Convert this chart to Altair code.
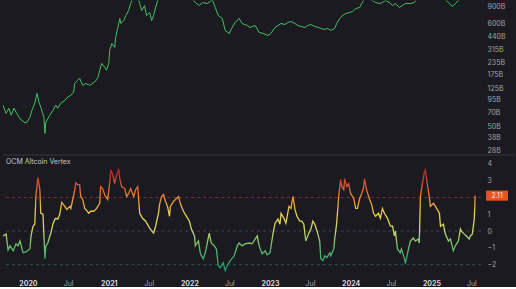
import altair as alt
import pandas as pd

# ---------------- data ----------------
# Altcoin market cap, billions USD (points above ~1040B are clipped in the view)
cap_year = [2019.691, 2019.728, 2019.765, 2019.790, 2019.827, 2019.852, 2019.889, 2019.914, 2019.963, 2019.988,
            2020.025, 2020.049, 2020.086, 2020.111, 2020.136, 2020.160, 2020.198, 2020.210, 2020.222, 2020.272,
            2020.309, 2020.346, 2020.370, 2020.407, 2020.457, 2020.494, 2020.531, 2020.568, 2020.580, 2020.617,
            2020.642, 2020.679, 2020.716, 2020.765, 2020.827, 2020.864, 2020.889, 2020.914, 2020.951, 2020.975,
            2021.000, 2021.012, 2021.037, 2021.074, 2021.086, 2021.111, 2021.136, 2021.148, 2021.185, 2021.210,
            2021.247, 2021.272, 2021.296, 2021.333, 2021.358, 2021.383, 2021.407, 2021.444, 2021.469, 2021.506,
            2021.531, 2021.556, 2021.580, 2021.617, 2021.667, 2021.741, 2021.815, 2021.889, 2021.963, 2022.025,
            2022.074, 2022.123, 2022.160, 2022.222, 2022.284, 2022.321, 2022.358, 2022.407, 2022.444, 2022.494,
            2022.531, 2022.568, 2022.617, 2022.654, 2022.716, 2022.753, 2022.815, 2022.864, 2022.914, 2022.975,
            2023.012, 2023.062, 2023.099, 2023.136, 2023.185, 2023.222, 2023.259, 2023.309, 2023.346, 2023.383,
            2023.432, 2023.469, 2023.506, 2023.556, 2023.593, 2023.630, 2023.679, 2023.716, 2023.753, 2023.802,
            2023.827, 2023.864, 2023.901, 2023.938, 2023.988, 2024.025, 2024.062, 2024.111, 2024.136, 2024.173,
            2024.222, 2024.272, 2024.309, 2024.358, 2024.395, 2024.432, 2024.481, 2024.519, 2024.556, 2024.605,
            2024.642, 2024.679, 2024.741, 2024.790, 2024.827, 2024.938, 2025.062, 2025.160, 2025.222, 2025.259,
            2025.296, 2025.346, 2025.432, 2025.543]
cap_value = [83, 68, 77, 65, 77, 70, 62, 58, 54, 55,
             62, 73, 87, 110, 89, 79, 62, 42, 55, 65,
             73, 83, 77, 87, 93, 101, 105, 114, 140, 151,
             159, 134, 140, 134, 145, 159, 193, 228, 208, 193,
             228, 312, 368, 335, 425, 543, 674, 597, 642, 725,
             817, 968, 1100, 1250, 1150, 968, 817, 922, 725, 779,
             642, 725, 879, 1100, 1250, 1400, 1500, 1350, 1200, 1100,
             991, 922, 991, 968, 1060, 879, 725, 674, 505, 469,
             543, 612, 674, 597, 569, 543, 569, 481, 469, 447,
             469, 543, 569, 597, 583, 612, 627, 597, 569, 556,
             543, 569, 583, 556, 543, 530, 518, 530, 505, 530,
             597, 674, 725, 760, 779, 797, 858, 879, 968, 1080,
             1100, 1040, 991, 968, 991, 1040, 991, 922, 968, 879,
             922, 968, 968, 991, 1100, 1300, 1250, 1100, 968, 900,
             968, 1060, 1150, 1250]

# OCM Altcoin Vertex oscillator
vertex_year = [2019.691, 2019.728, 2019.753, 2019.778, 2019.815, 2019.852, 2019.877, 2019.901, 2019.938, 2019.975,
               2020.025, 2020.037, 2020.062, 2020.086, 2020.099, 2020.123, 2020.148, 2020.160, 2020.185, 2020.210,
               2020.222, 2020.247, 2020.272, 2020.284, 2020.309, 2020.333, 2020.346, 2020.370, 2020.395, 2020.420,
               2020.457, 2020.481, 2020.519, 2020.531, 2020.556, 2020.580, 2020.593, 2020.617, 2020.642, 2020.654,
               2020.679, 2020.704, 2020.716, 2020.753, 2020.778, 2020.815, 2020.840, 2020.852, 2020.889, 2020.901,
               2020.926, 2020.951, 2020.963, 2020.988, 2021.012, 2021.025, 2021.049, 2021.074, 2021.086, 2021.123,
               2021.136, 2021.160, 2021.198, 2021.222, 2021.247, 2021.272, 2021.309, 2021.333, 2021.358, 2021.383,
               2021.420, 2021.457, 2021.506, 2021.556, 2021.580, 2021.617, 2021.630, 2021.654, 2021.679, 2021.704,
               2021.728, 2021.753, 2021.765, 2021.802, 2021.827, 2021.864, 2021.889, 2021.926, 2021.963, 2022.000,
               2022.025, 2022.062, 2022.074, 2022.111, 2022.136, 2022.173, 2022.198, 2022.222, 2022.247, 2022.272,
               2022.309, 2022.333, 2022.358, 2022.383, 2022.420, 2022.444, 2022.469, 2022.506, 2022.556, 2022.593,
               2022.617, 2022.654, 2022.691, 2022.741, 2022.778, 2022.815, 2022.840, 2022.864, 2022.901, 2022.938,
               2022.963, 2023.000, 2023.037, 2023.062, 2023.099, 2023.123, 2023.136, 2023.173, 2023.198, 2023.235,
               2023.259, 2023.284, 2023.309, 2023.333, 2023.370, 2023.395, 2023.420, 2023.444, 2023.481, 2023.506,
               2023.531, 2023.556, 2023.593, 2023.617, 2023.630, 2023.654, 2023.679, 2023.704, 2023.741, 2023.753,
               2023.790, 2023.802, 2023.827, 2023.852, 2023.877, 2023.889, 2023.914, 2023.926, 2023.951, 2023.975,
               2024.000, 2024.037, 2024.062, 2024.086, 2024.111, 2024.136, 2024.160, 2024.173, 2024.198, 2024.235,
               2024.259, 2024.284, 2024.309, 2024.346, 2024.370, 2024.395, 2024.420, 2024.457, 2024.494, 2024.519,
               2024.543, 2024.556, 2024.580, 2024.617, 2024.630, 2024.667, 2024.679, 2024.716, 2024.741, 2024.778,
               2024.802, 2024.840, 2024.852, 2024.864, 2024.889, 2024.914, 2024.926, 2024.951, 2024.975, 2024.988,
               2025.025, 2025.049, 2025.099, 2025.111, 2025.148, 2025.173, 2025.210, 2025.235, 2025.272, 2025.296,
               2025.333, 2025.358, 2025.370, 2025.407, 2025.432, 2025.469, 2025.481, 2025.506, 2025.531, 2025.543]
vertex_value = [-0.29, -0.18, -1.12, -0.88, -1.18, -0.76, -0.88, -0.59, -1.29, -1.24,
                -1.06, -0.29, 0.29, 0.41, 2.06, 3.18, 2.47, 1.06, 1.00, -1.65,
                -0.88, -0.71, -0.29, -0.12, 0.41, 0.71, 0.76, 0.71, 1.00, 1.71,
                1.47, 1.29, 1.47, 1.35, 1.88, 2.47, 2.88, 2.76, 2.76, 2.06,
                1.88, 1.35, 1.29, 1.06, 1.18, 1.18, 1.29, 1.35, 1.65, 2.65,
                2.53, 2.18, 2.06, 1.88, 2.82, 3.65, 3.35, 2.82, 3.12, 3.71,
                3.12, 2.65, 2.53, 2.06, 2.24, 2.53, 2.06, 2.47, 2.65, 1.06,
                0.76, 0.59, 0.18, -0.12, 0.29, 1.06, 1.59, 2.06, 2.18, 1.76,
                1.47, 0.88, 1.47, 1.76, 1.88, 2.06, 1.59, 1.18, 0.88, 0.59,
                0.12, -0.29, -0.88, -0.59, -1.35, -1.65, -1.29, -0.71, -0.12, -0.71,
                -0.88, -1.06, -2.06, -2.18, -1.88, -2.35, -2.06, -1.76, -1.47, -0.88,
                -0.71, -0.88, -0.76, -0.71, -0.76, -0.47, -0.29, -0.88, -1.35, -1.18,
                -1.41, -1.29, -0.12, 0.47, 0.71, 0.41, 1.06, 0.76, 0.47, 1.47,
                1.35, 2.06, 1.29, 0.88, 0.59, 0.59, 0.41, -0.59, -0.12, 0.12,
                0.59, 0.41, -0.18, -0.59, -1.65, -1.76, -1.47, -1.59, -1.29, -1.47,
                -1.06, -0.47, 0.47, 2.06, 3.06, 2.65, 2.47, 3.12, 2.65, 2.82,
                2.24, 1.94, 1.35, 1.35, 1.94, 2.24, 2.53, 3.12, 2.47, 1.88,
                1.59, 1.06, 0.88, 1.06, 0.76, 1.35, 1.06, 0.76, 0.29, 0.29,
                -0.29, 0.00, -1.06, -1.29, -1.06, -1.65, -1.94, -1.06, -0.59, -0.41,
                -0.59, -0.47, -0.71, 2.06, 2.82, 3.53, 3.65, 2.82, 2.06, 1.47,
                1.65, 1.47, 1.06, 0.29, 0.41, -0.18, -0.59, -0.47, -1.18, -0.88,
                -0.59, 0.12, 0.00, -0.18, -0.29, -0.47, -0.29, -0.18, 0.71, 2.11]

cap_ticks = [28, 38, 50, 70, 95, 125, 175, 235, 315, 440, 600, 900]
vertex_ticks = [4, 3, 1, 0, -1, -2]
ref_levels = [2, 0, -2]
ref_colors = ["#7a3034", "#3d3f57", "#2d5a47"]
last_value = 2.11
x_start_year, x_end_year = 2019.691, 2025.617
cap_domain = [26.1, 1040]
vertex_domain = [-2.76, 4.53]
tick_years = [2020, 2021, 2022, 2023, 2024, 2025]

# ---------------- helpers ----------------
def to_ts(y):
    yi = int(y)
    return pd.Timestamp(f"{yi}-01-01") + pd.Timedelta(days=round((y - yi) * 365.25))

def to_iso(y):
    return to_ts(y).strftime("%Y-%m-%d")

def to_ms(ts):
    return int(ts.value // 10**6)

cap_df = pd.DataFrame({"date": [to_iso(y) for y in cap_year], "cap": cap_value})
vx_df = pd.DataFrame({"date": [to_iso(y) for y in vertex_year], "v": vertex_value})
ref_df = pd.DataFrame({"level": ref_levels, "color": ref_colors})
last_df = pd.DataFrame({"v": [last_value], "label": [f"{last_value:.2f}"]})

x_domain = [to_ms(to_ts(x_start_year)), to_ms(to_ts(x_end_year))]
x_ticks = []
for yr in tick_years:
    x_ticks.append(to_ms(pd.Timestamp(f"{yr}-01-01")))
    x_ticks.append(to_ms(pd.Timestamp(f"{yr}-07-01")))

W = 480
H_TOP = 153
H_BOT = 123
BG = "#1b1a20"
LABEL = "#a4a4ad"
FONT = "Inter"

xscale = alt.Scale(type="utc", domain=x_domain, nice=False)

# ---------------- top panel ----------------
top = alt.Chart(cap_df).mark_line(color="#45c160", strokeWidth=1, clip=True).encode(
    x=alt.X("date:T", scale=xscale, axis=None),
    y=alt.Y("cap:Q", scale=alt.Scale(type="log", domain=cap_domain, nice=False),
            axis=alt.Axis(orient="right", values=cap_ticks, labelExpr="datum.value + 'B'",
                          grid=False, domain=False, ticks=False, title=None, labelOverlap=False,
                          labelColor=LABEL, labelFontSize=7, labelFont=FONT, labelPadding=6)),
).properties(width=W, height=H_TOP)

# ---------------- bottom panel ----------------
vmin, vmax = min(vertex_value), max(vertex_value)
def off(v):
    return max(0.0, min(1.0, (v - vmin) / (vmax - vmin)))

grad_stops = [(-2.3, "#23946c"), (-1.0, "#62bd6c"), (0.0, "#c9d76c"), (1.0, "#ead04e"),
              (2.0, "#ec8b35"), (3.0, "#d8412e"), (3.7, "#b11f30")]
gradient = alt.Gradient(
    gradient="linear", x1=0, x2=0, y1=1, y2=0,
    stops=[alt.GradientStop(offset=off(v), color=c) for v, c in grad_stops],
)

ybot = alt.Scale(domain=vertex_domain, nice=False, zero=False)
is_year = "utcFormat(datum.value, '%m') == '01'"
xaxis = alt.Axis(values=x_ticks, grid=False, domain=False, ticks=False, title=None, labelOverlap=False,
                 labelExpr=f"{is_year} ? utcFormat(datum.value, '%Y') : 'Jul'",
                 labelFontSize=7, labelFont=FONT, labelPadding=2, labelBaseline="top",
                 labelColor={"condition": {"test": is_year, "value": "#d4d4da"}, "value": LABEL},
                 labelFontWeight={"condition": {"test": is_year, "value": "bold"}, "value": "normal"})
yaxis = alt.Axis(orient="right", values=vertex_ticks, grid=False, domain=False, ticks=False,
                 title=None, labelOverlap=False, labelColor=LABEL, labelFontSize=7,
                 labelFont=FONT, labelPadding=6)

refs = alt.Chart(ref_df).mark_rule(strokeDash=[3, 3], strokeWidth=1).encode(
    y=alt.Y("level:Q", scale=ybot, axis=yaxis),
    color=alt.Color("color:N", scale=None),
)

line = alt.Chart(vx_df).mark_line(stroke=gradient, strokeWidth=1.3).encode(
    x=alt.X("date:T", scale=xscale, axis=xaxis),
    y=alt.Y("v:Q", scale=ybot, axis=yaxis),
)

sep = alt.Chart(ref_df).mark_rule(color="#2c2c33", strokeWidth=1).encode(
    y=alt.value(0), x=alt.value(0), x2=alt.value(W + 34)
)

title_txt = alt.Chart(last_df).mark_text(align="left", baseline="middle", fontSize=7, font=FONT,
                                         color="#c8c8ce").encode(
    x=alt.value(3), y=alt.value(7), text=alt.value("OCM Altcoin Vertex")
)

badge = alt.Chart(last_df).transform_calculate(
    top="datum.v + 0.3", bot="datum.v - 0.3"
).mark_rect(color="#e8531c", clip=False).encode(
    x=alt.value(W + 5), x2=alt.value(W + 27),
    y=alt.Y("top:Q", scale=ybot, axis=yaxis), y2="bot:Q",
)
badge_txt = alt.Chart(last_df).mark_text(fontSize=7, font=FONT, color="#fbe9e0", align="center",
                                         baseline="middle").encode(
    x=alt.value(W + 16), y=alt.Y("v:Q", scale=ybot, axis=yaxis), text="label:N"
)

bottom = alt.layer(refs, line, sep, title_txt, badge, badge_txt).properties(width=W, height=H_BOT)

chart = alt.vconcat(top, bottom, spacing=0).properties(
    background=BG, padding=0
).configure_view(stroke=None).configure_concat(spacing=0)

chart.save("out.html", embed_options={"renderer": "svg", "actions": False})
